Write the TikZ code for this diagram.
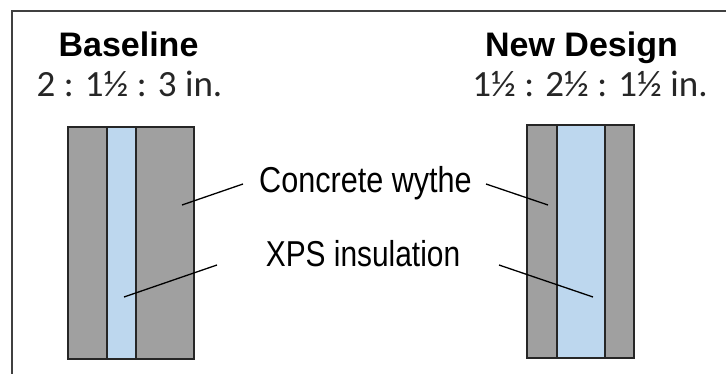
\documentclass[tikz,border=0pt]{standalone}
\usepackage{fontspec}
\setmainfont{Liberation Sans}
\newfontfamily\dimfont{Carlito}
\definecolor{concrete}{HTML}{A0A0A0}
\definecolor{xps}{HTML}{BDD7EE}
\definecolor{edge}{HTML}{262626}
\definecolor{framecol}{HTML}{404040}
\definecolor{subtext}{HTML}{262626}
\tikzset{
  layer/.style={draw=edge, line width=1.3pt},
  wythe/.style={layer, fill=concrete},
  foam/.style={layer, fill=xps},
  leader/.style={draw=black, line width=1.3pt},
  title/.style={anchor=base, inner sep=0pt, font=\fontsize{34}{40}\selectfont\bfseries},
  ratio/.style={anchor=base, inner sep=0pt, text=subtext, font=\dimfont\fontsize{37}{44}\selectfont},
  callout/.style={anchor=base, inner sep=0pt, font=\fontsize{36}{42}\selectfont}
}
\begin{document}
\begin{tikzpicture}[x=1pt, y=-1pt]
\useasboundingbox (0,0) rectangle (726,374);
% open frame (left and top edges)
\draw[framecol, line width=1.4pt] (12,374) -- (12,11) -- (726,11);

% headings
\node[title] (base) at (128.5,57) {Baseline};
\node[ratio] (baseratio) at (129.5,97) {2 : 1½ : 3 in.};
\node[title] (new) at (581.5,57) {New Design};
\node[ratio] (newratio) at (590,97) {1½ : 2½ : 1½ in.};

% baseline panel 2 : 1.5 : 3
\path[wythe] (68,127) rectangle (107,359);
\path[foam]  (107,127) rectangle (136,359);
\path[wythe] (136,127) rectangle (194,359);

% new design panel 1.5 : 2.5 : 1.5
\path[wythe] (527,125) rectangle (557,358);
\path[foam]  (557,125) rectangle (605,358);
\path[wythe] (605,125) rectangle (634,358);

% callout labels
\node[callout] (wythe) at (365.5,193) {\scalebox{0.85}[1]{Concrete wythe}};
\node[callout] (ins) at (363,267) {\scalebox{0.83}[1]{XPS insulation}};

% leader end points
\coordinate (wL) at (243,184);
\coordinate (wLt) at (182,205);
\coordinate (wR) at (486,184);
\coordinate (wRt) at (548,205);
\coordinate (iL) at (217,265);
\coordinate (iLt) at (124,297);
\coordinate (iR) at (499,265);
\coordinate (iRt) at (593,297);

\draw[leader] (wL) -- (wLt);
\draw[leader] (wR) -- (wRt);
\draw[leader] (iL) -- (iLt);
\draw[leader] (iR) -- (iRt);
\end{tikzpicture}
\end{document}
